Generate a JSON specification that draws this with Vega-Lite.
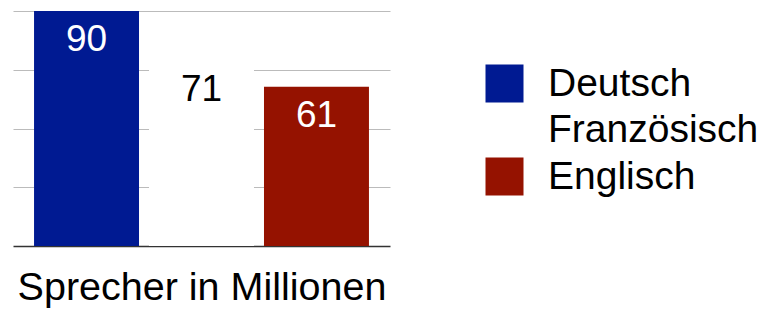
{
  "$schema": "https://vega.github.io/schema/vega-lite/v6.json",
  "width": 377,
  "height": 235,
  "autosize": {"type": "none"},
  "padding": {"left": 13, "top": 11, "right": 374, "bottom": 65},
  "background": "white",
  "config": {
    "font": "Liberation Sans",
    "view": {"stroke": null}
  },
  "data": {
    "values": [
      {"sprache": "Deutsch", "sprecher": 90},
      {"sprache": "Französisch", "sprecher": 71},
      {"sprache": "Englisch", "sprecher": 61}
    ]
  },
  "encoding": {
    "x": {
      "field": "sprache",
      "type": "nominal",
      "sort": null,
      "scale": {"paddingInner": 0.087, "paddingOuter": 0.183},
      "axis": {
        "title": "Sprecher in Millionen",
        "titleFont": "Liberation Sans",
        "titleFontSize": 39.5,
        "titleFontWeight": "normal",
        "titleColor": "black",
        "titlePadding": 22,
        "labels": false,
        "ticks": false,
        "domainColor": "#333333",
        "domainWidth": 1.5,
        "grid": false
      }
    },
    "y": {
      "field": "sprecher",
      "type": "quantitative",
      "scale": {"domain": [0, 90], "nice": false},
      "axis": {
        "title": null,
        "labels": false,
        "ticks": false,
        "domain": false,
        "values": [22.5, 45, 67.5, 90],
        "gridColor": "#bbbbbb",
        "gridWidth": 1
      }
    }
  },
  "layer": [
    {
      "mark": {"type": "bar"},
      "encoding": {
        "color": {
          "field": "sprache",
          "type": "nominal",
          "sort": null,
          "scale": {
            "domain": ["Deutsch", "Französisch", "Englisch"],
            "range": ["#001a92", "#ffffff", "#951200"]
          },
          "legend": {
            "title": null,
            "orient": "none",
            "legendX": 472,
            "legendY": 53,
            "padding": 0,
            "symbolType": "square",
            "symbolSize": 1444,
            "symbolStrokeWidth": 0,
            "symbolOpacity": 1,
            "labelFont": "Liberation Sans",
            "labelFontSize": 39,
            "labelColor": "black",
            "labelOffset": 24,
            "labelLimit": 400,
            "rowPadding": 6.5
          }
        }
      }
    },
    {
      "mark": {"type": "text", "baseline": "alphabetic", "dy": 40, "fontSize": 37, "font": "Liberation Sans"},
      "encoding": {
        "text": {"field": "sprecher", "type": "quantitative"},
        "color": {
          "condition": {"test": "datum.sprache === 'Französisch'", "value": "black"},
          "value": "white"
        }
      }
    }
  ],
  "resolve": {"scale": {"color": "independent"}}
}
